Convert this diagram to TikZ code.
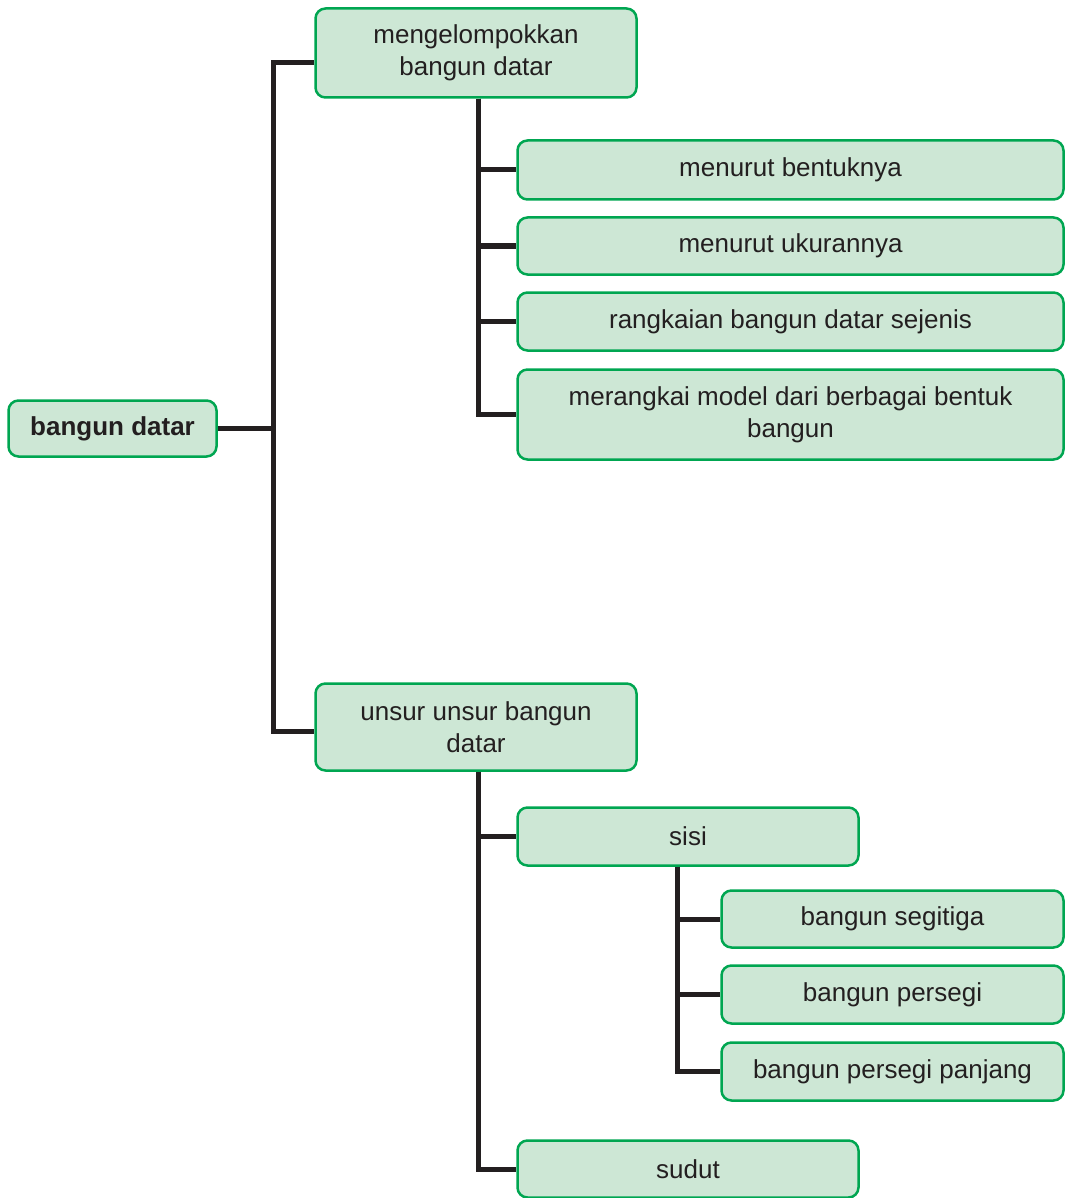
\documentclass[tikz,border=0pt]{standalone}
\usepackage{fontspec}
\setmainfont{Liberation Sans}
\usepackage{tikz}
\definecolor{boxfill}{RGB}{205,231,213}
\definecolor{boxline}{RGB}{0,166,81}
\definecolor{linkcol}{RGB}{35,31,32}

\begin{document}
\begin{tikzpicture}[x=1pt, y=-1pt,
  font=\fontsize{26}{32}\selectfont,
  box/.style={draw=boxline, fill=boxfill, line width=2.5pt, rounded corners=10pt,
    align=center, inner sep=0pt, text=linkcol},
  link/.style={draw=linkcol, line width=5pt}]
\useasboundingbox (0,0) rectangle (1066,1198);
% level 0 and 1
\node[box, minimum width=208, minimum height=56, font=\fontsize{26}{32}\selectfont\bfseries]
  (root) at (112.5,428.5) {bangun datar};
\node[box, minimum width=321, minimum height=89] (grp) at (476,53)
  {mengelompokkan\\bangun datar};
\node[box, minimum width=321, minimum height=87] (unsur) at (476,727)
  {unsur unsur bangun\\datar};
% children of grp
\node[box, minimum width=546, minimum height=59] (bentuk) at (790.5,170) {menurut bentuknya};
\node[box, minimum width=546, minimum height=57] (ukuran) at (790.5,246) {menurut ukurannya};
\node[box, minimum width=546, minimum height=58] (rangkaian) at (790.5,321.5) {rangkaian bangun datar sejenis};
\node[box, minimum width=546, minimum height=90] (merangkai) at (790.5,414.5)
  {merangkai model dari berbagai bentuk\\bangun};
% children of unsur
\node[box, minimum width=341, minimum height=58] (sisi) at (688,836.5) {sisi};
\node[box, minimum width=341, minimum height=57] (sudut) at (688,1169) {sudut};
% children of sisi
\node[box, minimum width=342, minimum height=57] (segitiga) at (892.5,919) {bangun segitiga};
\node[box, minimum width=342, minimum height=58] (persegi) at (892.5,994.5) {bangun persegi};
\node[box, minimum width=342, minimum height=58] (panjang) at (892.5,1071.5) {bangun persegi panjang};

% connectors
\coordinate (rootj) at (273,428.5);
\draw[link] (root.east) -- (rootj);
\draw[link] ([yshift=-10pt]grp.west) -| (rootj) |- ([yshift=-4pt]unsur.west);
\foreach \n in {bentuk,ukuran,rangkaian,merangkai}
  \draw[link] ([xshift=2pt]grp.south) |- (\n.west);
\foreach \n in {sisi,sudut}
  \draw[link] ([xshift=2pt]unsur.south) |- (\n.west);
\foreach \n in {segitiga,persegi,panjang}
  \draw[link] ([xshift=-11pt]sisi.south) |- (\n.west);
\end{tikzpicture}
\end{document}
